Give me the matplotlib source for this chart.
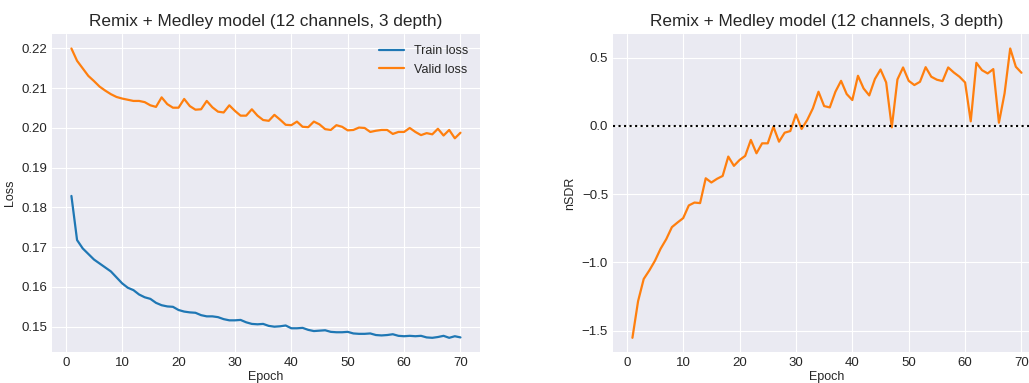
import numpy as np
import matplotlib
matplotlib.use("Agg")
import matplotlib.pyplot as plt

plt.style.use("seaborn-v0_8-darkgrid")
plt.rcParams["font.family"] = ["Liberation Sans", "DejaVu Sans"]

epochs = np.arange(1, 71)

train_loss = [
    0.1829, 0.1718, 0.1697, 0.1683, 0.1669, 0.1659, 0.1649, 0.1639, 0.1624, 0.1609,
    0.1598, 0.1592, 0.1581, 0.1574, 0.1570, 0.1560, 0.1554, 0.1551, 0.1550, 0.1542,
    0.1538, 0.1536, 0.1535, 0.1529, 0.1526, 0.1526, 0.1524, 0.1519, 0.1516, 0.1516,
    0.1517, 0.1511, 0.1507, 0.1506, 0.1507, 0.1502, 0.1500, 0.1501, 0.1503, 0.1496,
    0.1496, 0.1497, 0.1492, 0.1489, 0.1490, 0.1491, 0.1487, 0.1486, 0.1486, 0.1487,
    0.1483, 0.1482, 0.1482, 0.1483, 0.1479, 0.1478, 0.1479, 0.1481, 0.1477, 0.1476,
    0.1477, 0.1476, 0.1477, 0.1473, 0.1472, 0.1474, 0.1477, 0.1472, 0.1476, 0.1473,
]

valid_loss = [
    0.2200, 0.2169, 0.2150, 0.2131, 0.2118, 0.2104, 0.2094, 0.2085, 0.2078, 0.2074,
    0.2071, 0.2068, 0.2068, 0.2065, 0.2057, 0.2053, 0.2077, 0.2060, 0.2051, 0.2051,
    0.2073, 0.2055, 0.2046, 0.2047, 0.2068, 0.2052, 0.2041, 0.2039, 0.2057, 0.2043,
    0.2031, 0.2031, 0.2047, 0.2031, 0.2020, 0.2018, 0.2033, 0.2021, 0.2008, 0.2007,
    0.2016, 0.2003, 0.2002, 0.2016, 0.2009, 0.1997, 0.1995, 0.2007, 0.2003, 0.1994,
    0.1995, 0.2001, 0.2000, 0.1990, 0.1993, 0.1995, 0.1995, 0.1985, 0.1990, 0.1990,
    0.2000, 0.1990, 0.1982, 0.1987, 0.1984, 0.1998, 0.1981, 0.1995, 0.1974, 0.1988,
]

valid_nsdr = [
    -1.552, -1.284, -1.121, -1.058, -0.987, -0.899, -0.829, -0.741, -0.707, -0.675,
    -0.582, -0.561, -0.565, -0.383, -0.414, -0.387, -0.366, -0.224, -0.292, -0.249,
    -0.219, -0.102, -0.200, -0.127, -0.127, -0.005, -0.115, -0.049, -0.037, 0.085,
    -0.022, 0.044, 0.129, 0.251, 0.146, 0.136, 0.251, 0.331, 0.234, 0.190,
    0.368, 0.275, 0.224, 0.344, 0.414, 0.319, -0.010, 0.341, 0.429, 0.331,
    0.300, 0.324, 0.431, 0.361, 0.339, 0.329, 0.429, 0.392, 0.361, 0.319,
    0.034, 0.463, 0.409, 0.385, 0.417, 0.024, 0.239, 0.568, 0.434, 0.390,
]

title = "Remix + Medley model (12 channels, 3 depth)"

fig = plt.figure(figsize=(10.29, 3.83), dpi=100)
ax1 = fig.add_axes([0.0505, 0.0802, 0.4159, 0.831])
ax2 = fig.add_axes([0.5957, 0.0802, 0.4159, 0.831])

ax1.plot(epochs, train_loss, color="#1f77b4", lw=1.6, label="Train loss")
ax1.plot(epochs, valid_loss, color="#ff7f0e", lw=1.6, label="Valid loss")
ax1.set_title(title, fontsize=12.4)
ax1.set_xlabel("Epoch", fontsize=9, labelpad=1)
ax1.set_ylabel("Loss", fontsize=9)
ax1.legend(loc="upper right", fontsize=9)

ax2.plot(epochs, valid_nsdr, color="#ff7f0e", lw=1.6)
ax2.axhline(0, color="black", linestyle=":", lw=1.5)
ax2.set_title(title, fontsize=12.4)
ax2.set_xlabel("Epoch", fontsize=9, labelpad=1)
ax2.set_ylabel("nSDR", fontsize=9)

for ax in (ax1, ax2):
    ax.tick_params(labelsize=9.5)
    ax.set_xticks([0, 10, 20, 30, 40, 50, 60, 70])
ax2.set_yticks([-1.5, -1.0, -0.5, 0.0, 0.5])

fig.savefig("out.png", dpi=100)
